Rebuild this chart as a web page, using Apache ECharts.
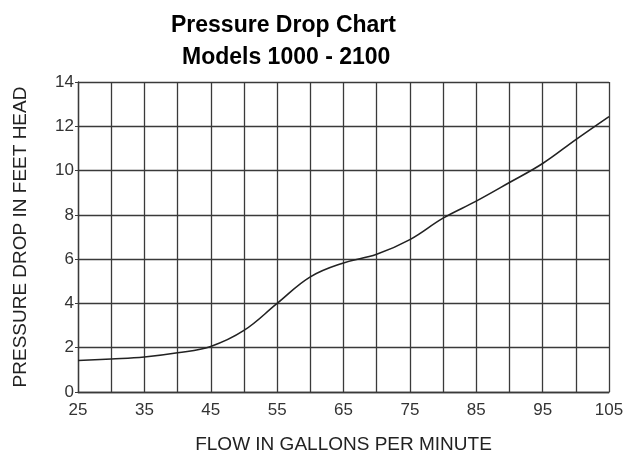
<!DOCTYPE html>
<html>
<head>
<meta charset="utf-8">
<script src="https://cdn.jsdelivr.net/npm/echarts@6/dist/echarts.min.js"></script>
<style>
  html, body { margin: 0; padding: 0; background: #fff; }
  #chart { width: 634px; height: 452px; }
</style>
</head>
<body>
<div id="chart"></div>
<script>
// Flow rate (GPM) and the matching pressure drop (feet of head)
const flowGpm = [25, 30, 35, 40, 45, 50, 55, 60, 65, 70, 75, 80, 85, 90, 95, 100, 105];
const dropFtHead = [1.42, 1.49, 1.58, 1.77, 2.06, 2.78, 4.0, 5.2, 5.83, 6.22, 6.88, 7.85, 8.62, 9.46, 10.32, 11.4, 12.44];
const xLabelTicks = [25, 35, 45, 55, 65, 75, 85, 95, 105];
const yLabelTicks = [0, 2, 4, 6, 8, 10, 12, 14];

const gridColor = '#3a3a3a';
const fontFamily = '"Liberation Sans", Arial, sans-serif';

const chart = echarts.init(document.getElementById('chart'), null, { renderer: 'canvas' });

chart.setOption({
  animation: false,
  backgroundColor: '#ffffff',
  title: [
    {
      text: 'Pressure Drop Chart',
      left: 166,
      top: 9,
      textStyle: { fontFamily, fontSize: 23, fontWeight: 'bold', color: '#000' }
    },
    {
      text: 'Models 1000 - 2100',
      left: 177,
      top: 41,
      textStyle: { fontFamily, fontSize: 23, fontWeight: 'bold', color: '#000' }
    }
  ],
  grid: {
    left: 78, right: 25, top: 82, bottom: 60,
    containLabel: false,
    outerBoundsMode: 'none'
  },
  xAxis: {
    type: 'value',
    min: 25,
    max: 105,
    interval: 5,
    name: 'FLOW IN GALLONS PER MINUTE',
    nameLocation: 'middle',
    nameGap: 43,
    nameTextStyle: { fontFamily, fontSize: 19, color: '#222' },
    axisLine: { show: true, lineStyle: { color: gridColor, width: 1.3 } },
    axisTick: { show: false },
    axisLabel: {
      margin: 10,
      fontFamily,
      fontSize: 17,
      color: '#333',
      showMaxLabel: true,
      formatter: v => (xLabelTicks.includes(v) ? String(v) : '')
    },
    splitLine: { show: true, lineStyle: { color: gridColor, width: 1.3 } }
  },
  yAxis: {
    type: 'value',
    min: 0,
    max: 14,
    interval: 2,
    name: 'PRESSURE DROP IN FEET HEAD',
    nameLocation: 'middle',
    nameGap: 48,
    nameTextStyle: { fontFamily, fontSize: 19, color: '#222' },
    axisLine: { show: true, lineStyle: { color: gridColor, width: 1.3 } },
    axisTick: { show: true, length: 3, lineStyle: { color: gridColor } },
    axisLabel: {
      margin: 4,
      fontFamily,
      fontSize: 17,
      color: '#333',
      formatter: v => (yLabelTicks.includes(v) ? String(v) : '')
    },
    splitLine: { show: true, lineStyle: { color: gridColor, width: 1.3 } }
  },
  series: [
    {
      type: 'line',
      data: flowGpm.map((f, i) => [f, dropFtHead[i]]),
      smooth: 0.4,
      showSymbol: false,
      lineStyle: { color: '#222', width: 1.6 }
    }
  ]
});
</script>
</body>
</html>
